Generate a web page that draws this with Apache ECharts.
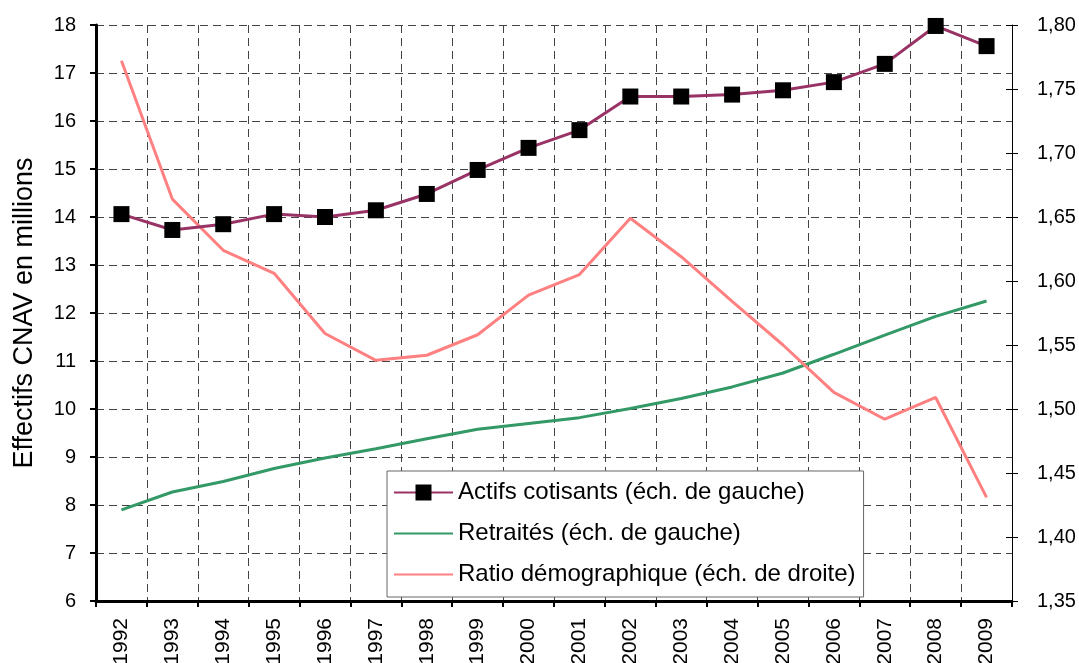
<!DOCTYPE html>
<html>
<head>
<meta charset="utf-8">
<script src="https://cdn.jsdelivr.net/npm/echarts@6/dist/echarts.min.js"></script>
<style>
  html, body { margin: 0; padding: 0; background: #fff; }
  #chart { width: 1079px; height: 663px; }
</style>
</head>
<body>
<div id="chart"></div>
<script>
const years = ['1992', '1993', '1994', '1995', '1996', '1997', '1998', '1999', '2000',
  '2001', '2002', '2003', '2004', '2005', '2006', '2007', '2008', '2009'];
const actifs = [14.06, 13.73, 13.85, 14.06, 14.00, 14.14, 14.48, 14.98, 15.44,
  15.81, 16.51, 16.51, 16.55, 16.64, 16.81, 17.19, 17.98, 17.56];
const retraites = [7.90, 8.27, 8.49, 8.76, 8.98, 9.17, 9.38, 9.58, 9.70,
  9.82, 10.01, 10.22, 10.46, 10.75, 11.14, 11.54, 11.93, 12.25];
const ratio = [1.772, 1.664, 1.624, 1.606, 1.559, 1.538, 1.542, 1.558, 1.589,
  1.605, 1.649, 1.619, 1.584, 1.550, 1.513, 1.492, 1.509, 1.431];

const FONT = 'Liberation Sans, Arial, sans-serif';
const GRID_LINE = { show: true, lineStyle: { color: '#444', width: 1, type: [8, 5] } };

const NAME_ACTIFS = 'Actifs cotisants (éch. de gauche)';
const NAME_RETR = 'Retraités (éch. de gauche)';
const NAME_RATIO = 'Ratio démographique (éch. de droite)';

// right scale, drawn twice so the ticks cross the axis line
const rightScale = { type: 'value', min: 1.35, max: 1.80, interval: 0.05, position: 'right' };

const chart = echarts.init(document.getElementById('chart'));
chart.setOption({
  animation: false,
  backgroundColor: '#fff',
  textStyle: { fontFamily: FONT, color: '#000' },
  grid: { left: 96, right: 67, top: 25, bottom: 62, outerBoundsMode: 'none' },
  legend: {
    orient: 'vertical',
    left: 387,
    top: 471,
    padding: [8, 8, 9, 6],
    itemGap: 14,
    itemWidth: 59,
    itemHeight: 20,
    borderColor: '#666',
    borderWidth: 1,
    backgroundColor: '#fff',
    textStyle: { fontFamily: FONT, fontSize: 24, lineHeight: 27, color: '#000' },
    data: [
      NAME_ACTIFS,
      { name: NAME_RETR, itemStyle: { opacity: 0 } },
      { name: NAME_RATIO, itemStyle: { opacity: 0 } }
    ]
  },
  xAxis: {
    type: 'category',
    data: years,
    boundaryGap: true,
    axisLine: { lineStyle: { color: '#000', width: 3 } },
    axisTick: { show: true, length: 6, lineStyle: { color: '#000', width: 2 } },
    axisLabel: { rotate: 90, margin: 17, fontSize: 21, color: '#000', fontFamily: FONT },
    splitLine: GRID_LINE
  },
  yAxis: [
    {
      type: 'value',
      min: 6,
      max: 18,
      interval: 1,
      name: 'Effectifs CNAV en millions',
      nameLocation: 'middle',
      nameGap: 58,
      nameTextStyle: { fontSize: 27, color: '#000', fontFamily: FONT },
      axisLine: { show: true, lineStyle: { color: '#000', width: 3 } },
      axisTick: { show: true, length: 6, lineStyle: { color: '#000', width: 2 } },
      axisLabel: { margin: 20, fontSize: 20, color: '#000', fontFamily: FONT },
      splitLine: GRID_LINE
    },
    {
      ...rightScale,
      axisLine: { show: true, lineStyle: { color: '#000', width: 1 } },
      axisTick: { show: true, length: 6, lineStyle: { color: '#000', width: 1 } },
      axisLabel: {
        margin: 25, fontSize: 20, color: '#000', fontFamily: FONT,
        formatter: v => v.toFixed(2).replace('.', ',')
      },
      splitLine: { show: false }
    },
    {
      ...rightScale,
      axisLine: { show: false },
      axisTick: { show: true, inside: true, length: 6, lineStyle: { color: '#000', width: 1 } },
      axisLabel: { show: false },
      splitLine: { show: false }
    }
  ],
  series: [
    {
      name: NAME_ACTIFS,
      type: 'line',
      data: actifs,
      yAxisIndex: 0,
      symbol: 'rect',
      symbolSize: 16,
      itemStyle: { color: '#000' },
      lineStyle: { color: '#993366', width: 3 },
      z: 4
    },
    {
      name: NAME_RETR,
      type: 'line',
      data: retraites,
      yAxisIndex: 0,
      symbol: 'none',
      itemStyle: { color: '#339966' },
      lineStyle: { color: '#339966', width: 3 },
      z: 3
    },
    {
      name: NAME_RATIO,
      type: 'line',
      data: ratio,
      yAxisIndex: 1,
      symbol: 'none',
      itemStyle: { color: '#FF8080' },
      lineStyle: { color: '#FF8080', width: 3 },
      z: 3
    }
  ]
});
</script>
</body>
</html>
